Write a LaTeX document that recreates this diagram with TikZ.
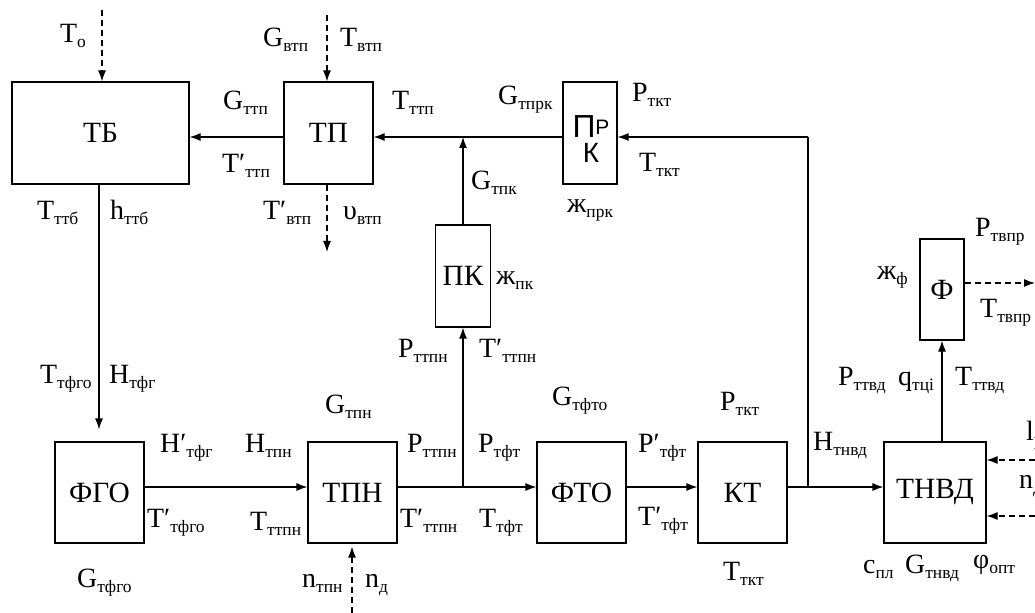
\documentclass[tikz,border=0pt]{standalone}
\usepackage{fontspec}
\setmainfont{Liberation Serif}
\newfontfamily\sansf{Liberation Sans}
\usetikzlibrary{arrows.meta}
\newcommand\lb[2]{#1\raisebox{-5bp}{\fontsize{17.5}{17.5}\selectfont #2}}
\begin{document}
\begin{tikzpicture}[x=1bp,y=-1bp,
  blk/.style={draw,line width=1.2bp,inner sep=0pt,font=\fontsize{29.5}{29.5}\selectfont},
  lbl/.style={anchor=base west,inner sep=0pt,font=\fontsize{28}{28}\selectfont},
  arr/.style={line width=1.2bp,-{Latex[length=11bp,width=8bp]}},
  ln/.style={line width=1.2bp},
  dsh/.style={line width=1.2bp,dash pattern=on 6bp off 4bp,-{Latex[length=11bp,width=8bp]}}]
\useasboundingbox (0,0) rectangle (1035,613);
% blocks
\node[blk,minimum width=177bp,minimum height=102bp] (tb) at (100.5,133) {ТБ};
\node[blk,minimum width=89bp,minimum height=102bp] (tp) at (328.5,133) {ТП};
\node[blk,minimum width=54bp,minimum height=102bp] (prk) at (590,133) {};
\node[inner sep=0pt,align=center,font=\sansf\fontsize{28}{25}\selectfont] (prkt) at (591,139)
  {{\fontsize{32}{25}\selectfont П\raisebox{3bp}{\fontsize{21}{21}\selectfont Р}}\\К};
\node[blk,minimum width=55bp,minimum height=102bp] (pk) at (463,276) {ПК};
\node[blk,minimum width=44bp,minimum height=101bp] (f) at (942,289.5) {Ф};
\node[blk,minimum width=89bp,minimum height=101bp] (fgo) at (99.5,492.5) {ФГО};
\node[blk,minimum width=89bp,minimum height=101bp] (tpn) at (352.5,492.5) {ТПН};
\node[blk,minimum width=89bp,minimum height=101bp] (fto) at (581.5,492.5) {ФТО};
\node[blk,minimum width=89bp,minimum height=101bp] (kt) at (742.5,492.5) {КТ};
\node[blk,minimum width=102bp,minimum height=101bp] (tnvd) at (935,492.5) {ТНВД};
% coordinates
\coordinate (J1) at (463,137);
\coordinate (J2) at (808,137);
\coordinate (J3) at (463,487);
\coordinate (J4) at (808,487);
\coordinate (tbin) at (102,10);
\coordinate (tpin) at (327,15);
\coordinate (tpout) at (327,252);
\coordinate (tpnin) at (352,613);
\coordinate (fout) at (1035,283);
\coordinate (lin) at (1035,460);
\coordinate (nin) at (1035,516);
\coordinate (tbdown) at (99,184);
% connectors
\draw[dsh] (tbin) -- (tbin |- tb.north);
\draw[dsh] (tpin) -- (tpin |- tp.north);
\draw[dsh] (tpin |- tp.south) -- (tpout);
\draw[arr] (tp.west |- J1) -- (tb.east |- J1);
\draw[arr] (prk.west |- J1) -- (tp.east |- J1);
\draw[arr] (J2) -- (prk.east |- J2);
\draw[arr] (pk.north) -- (J1);
\draw[arr,shorten >=12bp] (tbdown) -- (tbdown |- fgo.north);
\draw[arr] (fgo.east |- J3) -- (tpn.west |- J3);
\draw[arr] (tpn.east |- J3) -- (fto.west |- J3);
\draw[arr] (fto.east |- J3) -- (kt.west |- J3);
\draw[arr] (kt.east |- J3) -- (tnvd.west |- J3);
\draw[arr] (J3) -- (pk.south);
\draw[ln] (J4) -- (J2);
\draw[arr] (tnvd.north -| f) -- (f.south);
\draw[dsh] (f.east |- fout) -- (fout);
\draw[dsh] (lin) -- (tnvd.east |- lin);
\draw[dsh] (nin) -- (tnvd.east |- nin);
\draw[dsh,shorten >=3bp] (tpnin) -- (tpnin |- tpn.south);
% labels
\node[lbl] (l1) at (60,43) {\lb{T}{o}};
\node[lbl] (l2) at (263,47) {\lb{G}{втп}};
\node[lbl] (l3) at (340,47) {\lb{T}{втп}};
\node[lbl] (l4) at (223,110) {\lb{G}{ттп}};
\node[lbl] (l5) at (222,173) {\lb{T′}{ттп}};
\node[lbl] (l6) at (37,220) {\lb{T}{ттб}};
\node[lbl] (l7) at (110,220) {\lb{h}{ттб}};
\node[lbl] (l8) at (263,220) {\lb{T′}{втп}};
\node[lbl] (l9) at (343,220) {\lb{υ}{втп}};
\node[lbl] (l10) at (392,110) {\lb{T}{ттп}};
\node[lbl] (l11) at (498,105) {\lb{G}{тпрк}};
\node[lbl] (l12) at (632,102) {\lb{P}{ткт}};
\node[lbl] (l13) at (639,172) {\lb{T}{ткт}};
\node[lbl] (l14) at (471,190) {\lb{G}{тпк}};
\node[lbl] (l15) at (567,213) {\lb{ж}{прк}};
\node[lbl] (l16) at (496,285) {\lb{ж}{пк}};
\node[lbl] (l17) at (398,357) {\lb{P}{ттпн}};
\node[lbl] (l18) at (479,357) {\lb{T′}{ттпн}};
\node[lbl] (l19) at (40,383) {\lb{T}{тфго}};
\node[lbl] (l20) at (109,383) {\lb{H}{тфг}};
\node[lbl] (l21) at (160,452) {\lb{H′}{тфг}};
\node[lbl] (l22) at (245,452) {\lb{H}{тпн}};
\node[lbl] (l23) at (325,413) {\lb{G}{тпн}};
\node[lbl] (l24) at (407,452) {\lb{P}{ттпн}};
\node[lbl] (l25) at (478,452) {\lb{P}{тфт}};
\node[lbl] (l26) at (147,527) {\lb{T′}{тфго}};
\node[lbl] (l27) at (250,530) {\lb{T}{ттпн}};
\node[lbl] (l28) at (400,527) {\lb{T′}{ттпн}};
\node[lbl] (l29) at (479,527) {\lb{T}{тфт}};
\node[lbl] (l30) at (77,587) {\lb{G}{тфго}};
\node[lbl] (l31) at (302,587) {\lb{n}{тпн}};
\node[lbl] (l32) at (365,587) {\lb{n}{д}};
\node[lbl] (l33) at (552,405) {\lb{G}{тфто}};
\node[lbl] (l34) at (638,452) {\lb{P′}{тфт}};
\node[lbl] (l35) at (638,525) {\lb{T′}{тфт}};
\node[lbl] (l36) at (720,410) {\lb{P}{ткт}};
\node[lbl] (l37) at (723,580) {\lb{T}{ткт}};
\node[lbl] (l38) at (813,450) {\lb{H}{тнвд}};
\node[lbl] (l39) at (975,237) {\lb{P}{твпр}};
\node[lbl] (l40) at (877,280) {\lb{ж}{ф}};
\node[lbl] (l41) at (980,317) {\lb{T}{твпр}};
\node[lbl] (l42) at (838,385) {\lb{P}{ттвд}};
\node[lbl] (l43) at (898,385) {\lb{q}{тці}};
\node[lbl] (l44) at (955,385) {\lb{T}{ттвд}};
\node[lbl] (l45) at (1026,440) {\lb{l}{р}};
\node[lbl] (l46) at (1019,488) {\lb{n}{д}};
\node[lbl] (l47) at (863,573) {\lb{c}{пл}};
\node[lbl] (l48) at (905,573) {\lb{G}{тнвд}};
\node[lbl] (l49) at (973,568) {\lb{φ}{опт}};
\end{tikzpicture}
\end{document}
